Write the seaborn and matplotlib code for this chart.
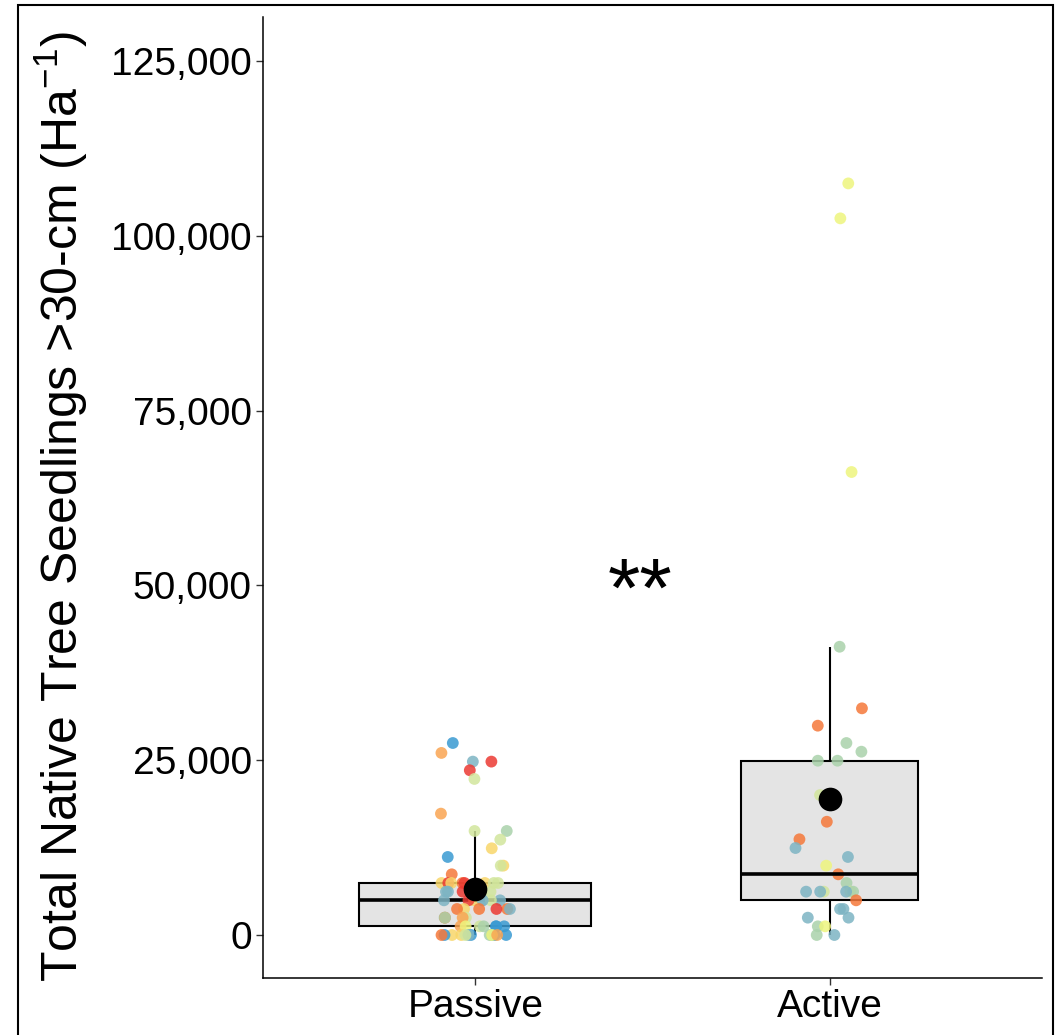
import numpy as np
import pandas as pd
import matplotlib.pyplot as plt
import seaborn as sns
from matplotlib.patches import Rectangle
from matplotlib.ticker import FuncFormatter

# ---- data (seedlings per Ha) ----
groups = ["Passive", "Active"]

passive_values = [27460, 26040, 24800, 24800, 23560, 22320, 17360, 14880, 14880, 13640,
                  12400, 11160, 9920, 9920, 8680,
                  7440, 7440, 7440, 7440, 7440, 7440, 7440, 7440,
                  6200, 6200, 6200, 6200,
                  4960, 4960, 4960, 4960, 4960, 4960, 4960,
                  3720, 3720, 3720, 3720, 3720, 3720,
                  2480, 2480, 2480, 2480, 2480,
                  1240, 1240, 1240, 1240, 1240, 1240, 1240,
                  0, 0, 0, 0, 0, 0, 0, 0, 0, 0, 0, 0, 0]
passive_sites = ["c9", "c3", "c8", "c1", "c1", "c6", "c3", "c6", "c7", "c6",
                 "c4", "c9", "c4", "c6", "c2",
                 "c4", "c4", "c1", "c2", "c4", "c6", "c6", "c1",
                 "c1", "c8", "c8", "c6",
                 "c8", "c8", "c4", "c1", "c8", "c6", "c8",
                 "c2", "c2", "c8", "c4", "c2", "c1",
                 "c7", "c6", "c2", "c3", "c7",
                 "c3", "c9", "c9", "c9", "c6", "c7", "c5",
                 "c4", "c9", "c7", "c9", "c2", "c9", "c4", "c7", "c5", "c9", "c8", "c6", "c3"]

active_values = [107500, 102500, 66220, 41230, 32420, 29940, 27460, 26220, 24930, 24930,
                 20020, 16200, 13690, 12440, 11160, 9920, 8680, 7440,
                 6200, 6200, 6200, 6200, 6200, 6200,
                 4960, 3720, 3720, 2480, 2480, 1240, 1240, 0, 0]
active_sites = ["c5", "c5", "c5", "c7", "c2", "c2", "c7", "c7", "c7", "c7",
                "c6", "c2", "c2", "c8", "c8", "c5", "c2", "c7",
                "c6", "c8", "c8", "c6", "c7", "c8",
                "c2", "c8", "c8", "c8", "c8", "c7", "c5", "c7", "c8"]

site_colors = {"c1": "#EC3A33", "c2": "#F5783A", "c3": "#FAA552", "c4": "#F8D66A",
               "c5": "#EEF57E", "c6": "#D2E69C", "c7": "#AAD2AB", "c8": "#7DB4C3",
               "c9": "#3A9AD2"}

df = pd.DataFrame({
    "group": ["Passive"] * len(passive_values) + ["Active"] * len(active_values),
    "value": passive_values + active_values,
    "site": passive_sites + active_sites,
})

plt.rcParams["font.family"] = ["Liberation Sans", "DejaVu Sans"]
plt.rcParams["mathtext.fontset"] = "custom"
plt.rcParams["mathtext.rm"] = "Liberation Sans"
plt.rcParams["mathtext.it"] = "Liberation Sans:italic"

fig = plt.figure(figsize=(10.61, 10.35), dpi=100)
ax = fig.add_axes([263 / 1061, 1 - 978 / 1035, (1042 - 263) / 1061, (978 - 17) / 1035])

# boxes (different widths, as in the reference)
box_kw = dict(x="group", y="value", order=groups, color="#E4E4E4", saturation=1,
              linecolor="black", linewidth=1.5, showfliers=False, showcaps=False,
              medianprops=dict(linewidth=2.6), ax=ax)
sns.boxplot(data=df[df.group == "Passive"], width=0.655, **box_kw)
sns.boxplot(data=df[df.group == "Active"], width=0.50, **box_kw)

# jittered points
np.random.seed(11)
sns.stripplot(data=df, x="group", y="value", order=groups, hue="site",
              palette=site_colors, jitter=0.1, size=8.5, alpha=0.85, linewidth=0,
              legend=False, ax=ax, zorder=3)

# means
sns.pointplot(data=df, x="group", y="value", order=groups, estimator="mean",
              errorbar=None, color="black", markers="o", linestyle="none",
              markersize=15, ax=ax)
for ln in ax.lines[-2:]:
    ln.set_zorder(5)

ax.text(0.465, 48700, "**", fontsize=60, ha="center", va="center")

ax.set_xlim(-0.6, 1.6)
ax.set_ylim(-6150, 131300)
ax.set_yticks([0, 25000, 50000, 75000, 100000, 125000])
ax.yaxis.set_major_formatter(FuncFormatter(lambda v, p: f"{int(v):,}"))
ax.set_xlabel("")
ax.set_ylabel("Total Native Tree Seedlings >30-cm (Ha$^{-1}$)", fontsize=36)
ax.yaxis.set_label_coords(-0.222, 0.49)
ax.tick_params(axis="both", labelsize=28, length=5, width=1, color="#333333",
               labelcolor="black", pad=3)
for s in ["top", "right"]:
    ax.spines[s].set_visible(False)
for s in ["left", "bottom"]:
    ax.spines[s].set_linewidth(1.1)
    ax.spines[s].set_color("black")

# frame around the whole figure
fig.patches.append(Rectangle((18 / 1061, -0.02), (1053 - 18) / 1061, 1.02 - 5 / 1035,
                             transform=fig.transFigure, fill=False,
                             edgecolor="black", linewidth=1.5))

fig.savefig("out.png", dpi=100)
